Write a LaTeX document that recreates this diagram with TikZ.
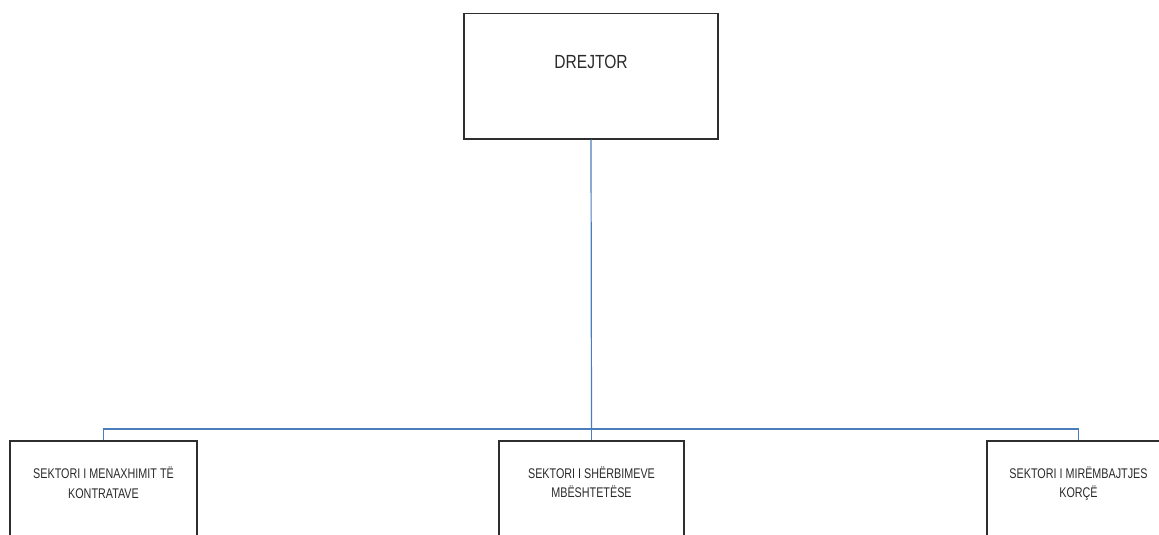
\documentclass[tikz,border=0pt]{standalone}
\usepackage{fontspec}
\newfontfamily\narrowfont[FakeStretch=0.82]{Liberation Sans}
\newfontfamily\sectorfont[FakeStretch=0.77]{Liberation Sans}
\definecolor{boxline}{HTML}{2E2E2E}
\definecolor{txt}{HTML}{2A2A2A}
\definecolor{conn}{HTML}{4A7EBB}
\tikzset{
  orgbox/.style={draw=boxline, line width=1.5pt, inner sep=0pt, anchor=north, align=center, text=txt},
  sectortext/.style={font=\sectorfont\fontsize{14}{19.5}\selectfont},
  headtext/.style={font=\narrowfont\fontsize{19}{22}\selectfont},
  orgline/.style={draw=conn, line width=1.2pt}
}
\begin{document}
\begin{tikzpicture}[x=1pt,y=-1pt]
\useasboundingbox (0,0) rectangle (1159,535);
\clip (0,0) rectangle (1159,535);
\node[orgbox, headtext, minimum width=254pt, text height=55pt, text depth=70pt] (top) at (591,13) {DREJTOR};
\node[orgbox, sectortext, minimum width=187pt, text height=57.5pt, text depth=52.5pt] (left) at (103.5,440) {SEKTORI I MENAXHIMIT TË\\KONTRATAVE};
\node[orgbox, sectortext, minimum width=185pt, text height=57pt, text depth=53pt] (mid) at (591.5,440) {SEKTORI I SHËRBIMEVE\\MBËSHTETËSE};
\node[orgbox, sectortext, minimum width=183pt, text height=57pt, text depth=53pt] (right) at (1078.5,440) {SEKTORI I MIRËMBAJTJES\\KORÇË};
\coordinate (junction) at (591.5,429);
\draw[orgline] (top.south) -- (junction);
\draw[orgline] (junction) -| (left.north);
\draw[orgline] (junction) -| (right.north);
\draw[orgline] (junction) -- (mid.north);
\end{tikzpicture}
\end{document}
